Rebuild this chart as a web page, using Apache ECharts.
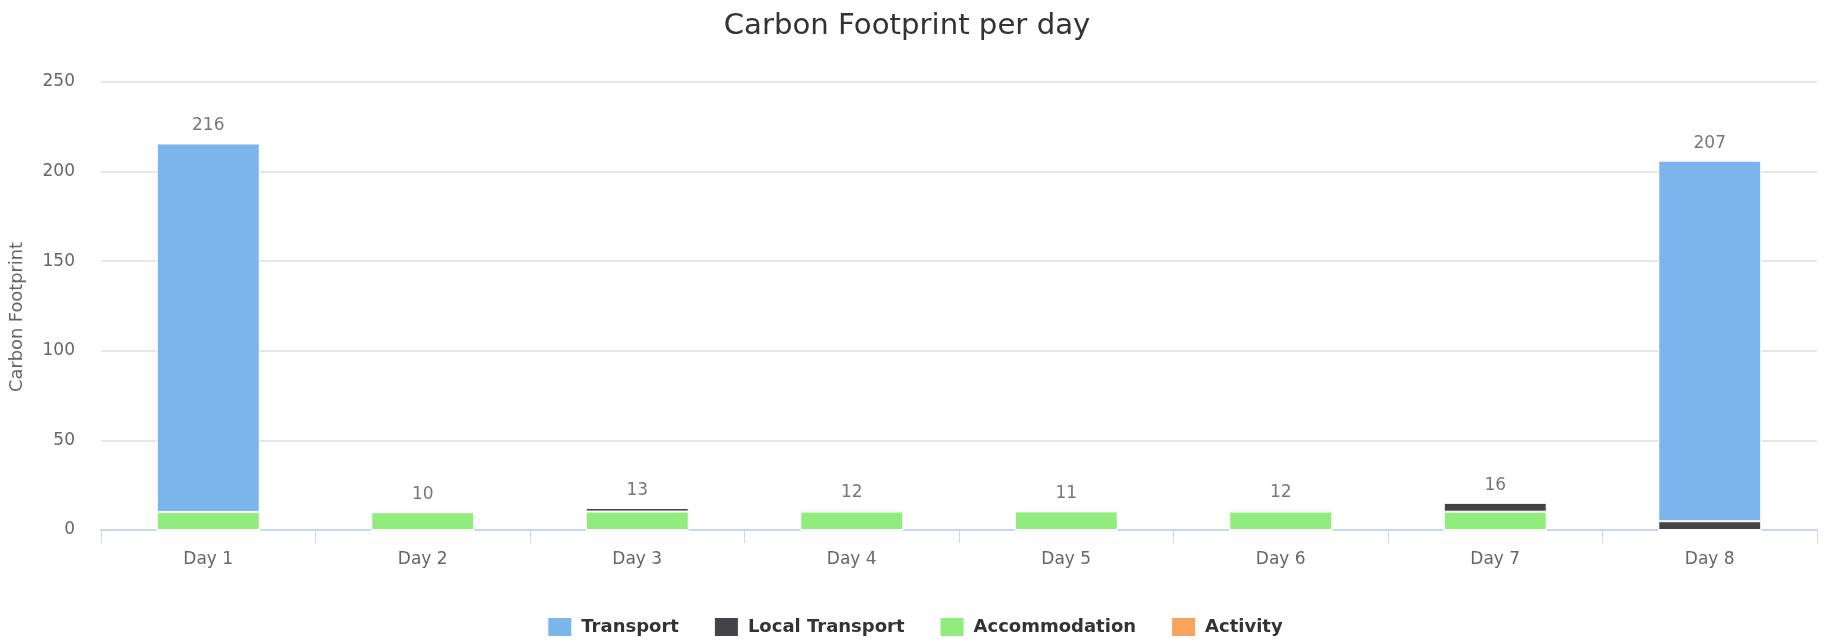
<!DOCTYPE html>
<html>
<head>
<meta charset="utf-8">
<script src="https://cdn.jsdelivr.net/npm/echarts@6/dist/echarts.min.js"></script>
<style>
html,body{margin:0;padding:0;background:#fff;}
#chart{width:1829px;height:640px;}
</style>
</head>
<body>
<div id="chart"></div>
<script>
var categories = ['Day 1','Day 2','Day 3','Day 4','Day 5','Day 6','Day 7','Day 8'];
var transport = [205.7, 0, 0, 0, 0, 0, 0, 201.2];
var localTransport = [0, 0, 2.0, 1.0, 0, 1.0, 5.0, 4.9];
var accommodation = [10, 9.9, 10.3, 10.3, 10.4, 10.3, 10.2, 0];
var activity = [0, 0, 0, 0, 0, 0, 0, 0];
var seriesNames = ['Transport','Local Transport','Accommodation','Activity'];
var colors = ['#7cb5ec','#434348','#90ed7d','#f7a35c'];
var yTicks = {min: 0, max: 250, interval: 50};

var totals = categories.map(function(c, i){
  return transport[i] + localTransport[i] + accommodation[i] + activity[i];
});

var FONT = 'DejaVu Sans';
function barSeries(name, data, color){
  return {
    name: name, type: 'bar', stack: 'total', data: data,
    barWidth: '48%',
    itemStyle: {color: color, borderColor: '#ffffff', borderWidth: 1},
    emphasis: {disabled: true}
  };
}
var chart = echarts.init(document.getElementById('chart'), null, {renderer: 'canvas'});
chart.setOption({
  animation: false,
  backgroundColor: '#ffffff',
  color: colors,
  title: {
    text: 'Carbon Footprint per day',
    left: 902, top: 7, textAlign: 'center',
    textStyle: {fontFamily: FONT, fontSize: 29.2, fontWeight: 'normal', color: '#333333'}
  },
  legend: {
    data: seriesNames,
    bottom: 2, left: 'center', padding: [0, 5],
    icon: 'rect', itemWidth: 25, itemHeight: 20, itemGap: 34,
    textStyle: {fontFamily: FONT, fontSize: 18, fontWeight: 'bold', color: '#333333', padding: [0, 0, 0, 4]}
  },
  grid: {left: 101, right: 12, top: 82, bottom: 110, containLabel: false},
  xAxis: {
    type: 'category', data: categories,
    axisLine: {lineStyle: {color: '#ccd6eb', width: 2}},
    axisTick: {show: true, alignWithLabel: false, length: 13, lineStyle: {color: '#ccd6eb', width: 1}},
    axisLabel: {fontFamily: FONT, fontSize: 17, color: '#666666', margin: 21}
  },
  yAxis: {
    type: 'value', min: yTicks.min, max: yTicks.max, interval: yTicks.interval,
    name: 'Carbon Footprint', nameLocation: 'middle', nameGap: 75, nameRotate: 90,
    nameTextStyle: {fontFamily: FONT, fontSize: 17.8, color: '#666666', padding: [0, 22, 0, 0]},
    axisLine: {show: false}, axisTick: {show: false},
    axisLabel: {fontFamily: FONT, fontSize: 17, color: '#666666', margin: 26},
    splitLine: {lineStyle: {color: '#e6e6e6', width: 2}}
  },
  series: [
    barSeries('Activity', activity, colors[3]),
    barSeries('Accommodation', accommodation, colors[2]),
    barSeries('Local Transport', localTransport, colors[1]),
    barSeries('Transport', transport, colors[0]),
    {
      name: 'Total', type: 'scatter', data: totals, symbolSize: 0, silent: true,
      label: {
        show: true, position: 'top', distance: 9,
        fontFamily: FONT, fontSize: 17, color: '#555555',
        formatter: function(p){ return Math.ceil(p.value - 1e-9); }
      }
    }
  ]
});
</script>
</body>
</html>
